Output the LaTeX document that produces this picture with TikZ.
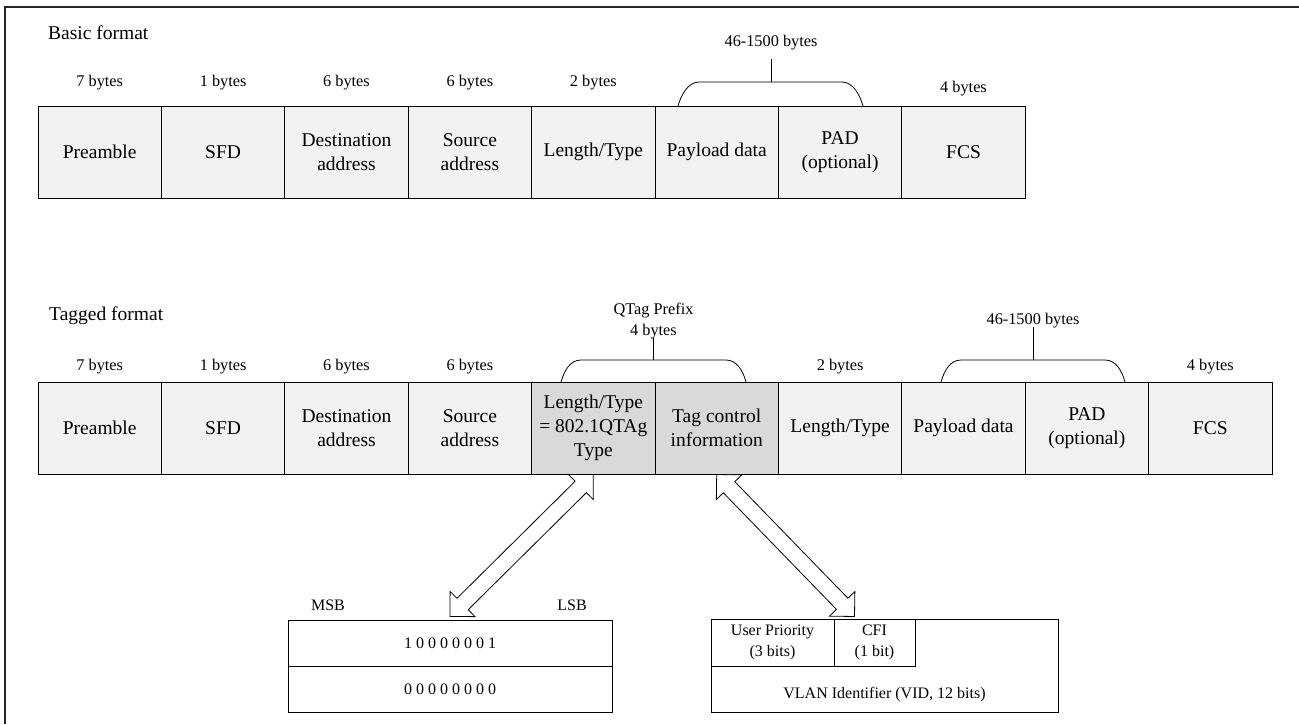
\documentclass[tikz,border=0pt]{standalone}
\usepackage{fontspec}
\setmainfont{Liberation Serif}
\usetikzlibrary{calc}
\definecolor{boxlight}{RGB}{242,242,242}
\definecolor{boxdark}{RGB}{217,217,217}
\newcommand\dblblock[2]{%
  \path ($(#1)!17.7pt!(#2)$) coordinate (#1h) ($(#2)!17.7pt!(#1)$) coordinate (#2h);
  \draw[blockarrow] (#1) -- ($(#1h)!17.7pt!90:(#2)$) -- ($(#1h)!8pt!90:(#2)$)
    -- ($(#2h)!8pt!-90:(#1)$) -- ($(#2h)!17.7pt!-90:(#1)$) -- (#2)
    -- ($(#2h)!17.7pt!90:(#1)$) -- ($(#2h)!8pt!90:(#1)$)
    -- ($(#1h)!8pt!-90:(#2)$) -- ($(#1h)!17.7pt!-90:(#2)$) -- cycle;}
\begin{document}
\begin{tikzpicture}[x=1pt,y=-1pt,
  field/.style={draw, fill=boxlight, minimum width=123.4pt, minimum height=92pt,
    inner sep=0pt, align=center, font=\fontsize{19.5}{24}\selectfont, line width=1pt},
  qfield/.style={field, fill=boxdark},
  bytes/.style={font=\fontsize{16.3}{21}\selectfont, inner sep=0pt, align=center},
  title/.style={font=\fontsize{19.5}{24}\selectfont, inner sep=0pt, anchor=west},
  cell/.style={draw, fill=white, inner sep=0pt, align=center, line width=1pt,
    font=\fontsize{16}{21}\selectfont},
  small/.style={font=\fontsize{16}{21}\selectfont, inner sep=0pt, align=center},
  brace/.style={line width=0.8pt},
  blockarrow/.style={draw, fill=white, line width=0.8pt, line join=miter},
]
\useasboundingbox (0,0) rectangle (1299,724);
% frame
\draw[line width=1.6pt, draw=black!85] (1299,7) -- (5,7) -- (5,724);

% ---------- Basic format ----------
\node[title] (basic) at (48,33) {Basic format};
\node[field] (b1) at (99.7,152) {Preamble};
\node[field] (b2) at (223.1,152) {SFD};
\node[field] (b3) at (346.5,152) {Destination\\address};
\node[field] (b4) at (469.9,152) {Source\\address};
\node[field] (b5) at (593.3,152) {Length/Type};
\node[field] (b6) at (716.7,152) {Payload data};
\node[field] (b7) at (840.1,152) {PAD\\(optional)};
\node[field] (b8) at (963.5,152) {FCS};

\node[bytes] (bl1) at (99.7,83) {7 bytes};
\node[bytes] (bl2) at (223.1,83) {1 bytes};
\node[bytes] (bl3) at (346.5,83) {6 bytes};
\node[bytes] (bl4) at (469.9,83) {6 bytes};
\node[bytes] (bl5) at (593.3,83) {2 bytes};
\node[bytes] (bl8) at (963.5,89) {4 bytes};
\node[bytes] (bl67) at (771,43) {46-1500 bytes};
\draw[brace] (678,106) .. controls (681,95) and (688,82) .. (699,82) -- (842,82)
  .. controls (853,82) and (860,95) .. (863,106);
\draw[brace] (771,82) -- (771,59);

% ---------- Tagged format ----------
\node[title] (tagged) at (49,316) {Tagged format};
\node[field] (t1) at (99.7,428) {Preamble};
\node[field] (t2) at (223.1,428) {SFD};
\node[field] (t3) at (346.5,428) {Destination\\address};
\node[field] (t4) at (469.9,428) {Source\\address};
\node[qfield] (ltq) at (593.3,428) {Length/Type\\= 802.1QTAg\\Type};
\node[qfield] (tci) at (716.7,428) {Tag control\\information};
\node[field] (t7) at (840.1,428) {Length/Type};
\node[field] (t8) at (963.5,428) {Payload data};
\node[field] (t9) at (1086.9,428) {PAD\\(optional)};
\node[field] (t10) at (1210.3,428) {FCS};

\node[bytes] (tl1) at (99.7,367) {7 bytes};
\node[bytes] (tl2) at (223.1,367) {1 bytes};
\node[bytes] (tl3) at (346.5,367) {6 bytes};
\node[bytes] (tl4) at (469.9,367) {6 bytes};
\node[bytes] (tl7) at (840.1,367) {2 bytes};
\node[bytes] (tl10) at (1210.3,367) {4 bytes};
\node[bytes] (tlq) at (653.5,321.5) {QTag Prefix\\4 bytes};
\node[bytes] (tl89) at (1033,321) {46-1500 bytes};

\draw[brace] (561,382) .. controls (564,371) and (570,360) .. (581,360) -- (726,360)
  .. controls (737,360) and (743,371) .. (746,382);
\draw[brace] (653.5,360) -- (653.5,338);
\draw[brace] (941,382) .. controls (944,371) and (950,360) .. (961,360) -- (1105,360)
  .. controls (1116,360) and (1122,371) .. (1125,382);
\draw[brace] (1033,360) -- (1033,327);

% ---------- MSB / LSB ----------
\node[small] (msb) at (328,605) {MSB};
\node[small] (lsb) at (572,605) {LSB};
\node[cell, minimum width=324pt, minimum height=46pt] (msb1) at (450,643) {1 0 0 0 0 0 0 1};
\node[cell, minimum width=324pt, minimum height=46pt] (msb2) at (450,689) {0 0 0 0 0 0 0 0};

% ---------- TCI detail ----------
\node[cell, minimum width=347pt, minimum height=93pt] (vlan) at (884.5,665.5) {};
\node[cell, minimum width=123pt, minimum height=47pt] (up) at (772.5,642.5) {User Priority\\(3 bits)};
\node[cell, minimum width=81pt, minimum height=47pt] (cfi) at (874.5,642.5) {CFI\\(1 bit)};
\node[small] (vid) at (884.5,695) {VLAN Identifier (VID, 12 bits)};

% ---------- block arrows ----------
\coordinate (a1) at (ltq.south);
\coordinate (a2) at ($(msb1.north)+(0,-3)$);
\dblblock{a1}{a2}
\coordinate (c1) at (tci.south);
\coordinate (c2) at ($(vlan.north west)+(144,-2)$);
\dblblock{c1}{c2}
\end{tikzpicture}
\end{document}
